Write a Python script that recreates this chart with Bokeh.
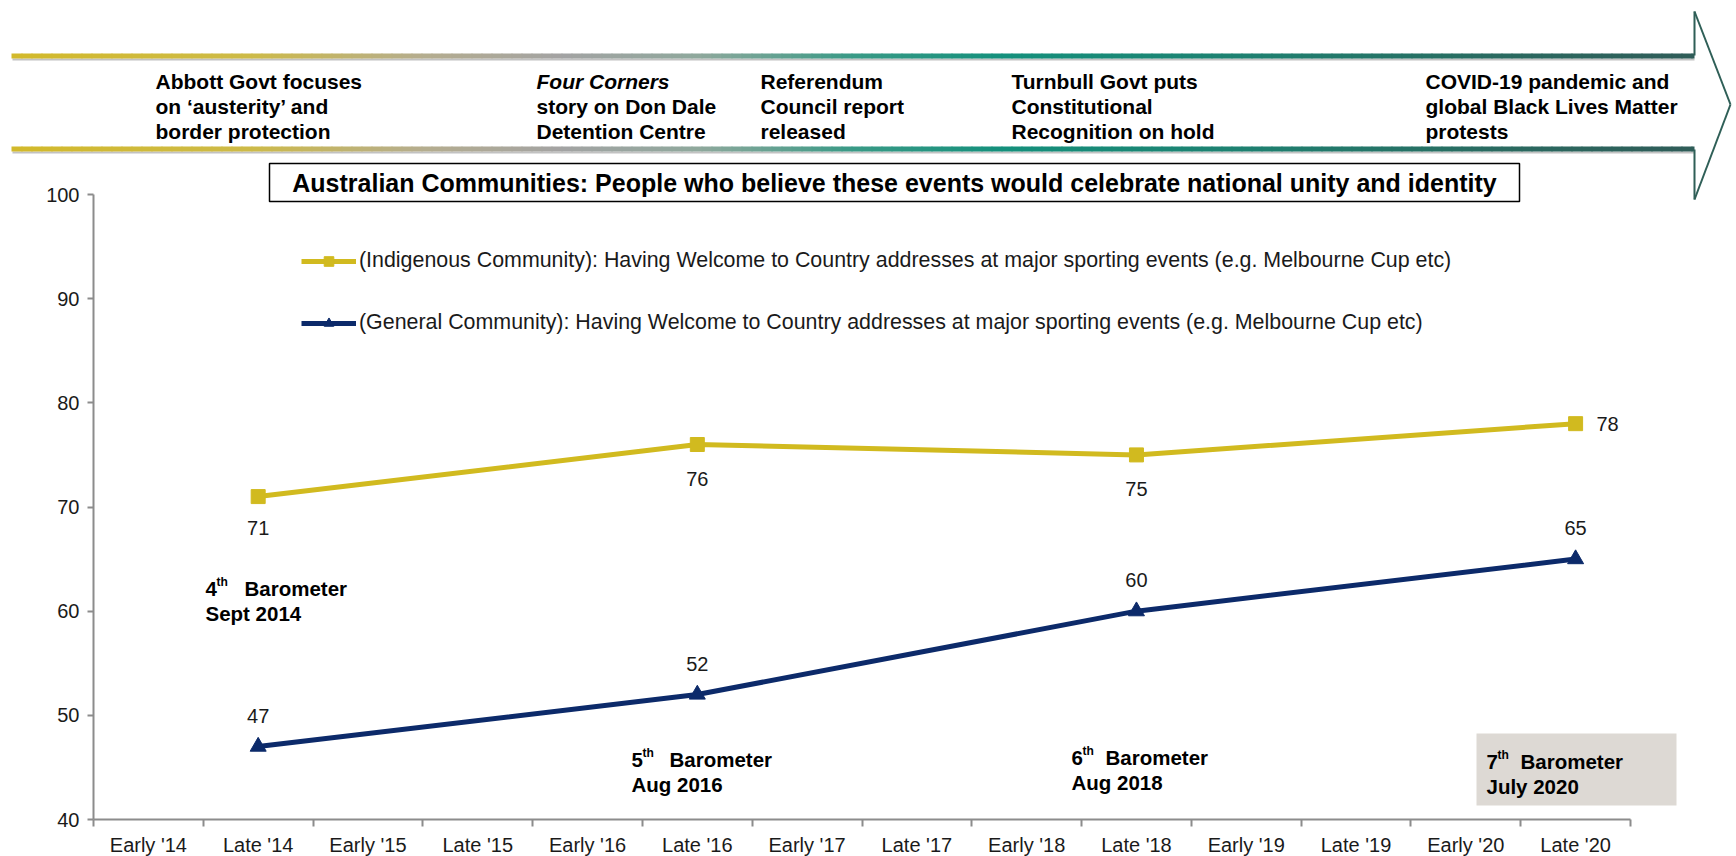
from bokeh.plotting import figure
from bokeh.models import (Range1d, FixedTicker, Label, BoxAnnotation, Arrow,
                          Legend, LegendItem, ColumnDataSource)
from bokeh.core.properties import value
from bokeh.embed import file_html
from bokeh.resources import INLINE

# ---------------- data ----------------
categories = ["Early '14", "Late '14", "Early '15", "Late '15", "Early '16", "Late '16",
              "Early '17", "Late '17", "Early '18", "Late '18", "Early '19", "Late '19",
              "Early '20", "Late '20"]
waves = ["Late '14", "Late '16", "Late '18", "Late '20"]
indigenous = [71, 76, 75, 78]
general = [47, 52, 60, 65]
y_ticks = [40, 50, 60, 70, 80, 90, 100]

indigenous_name = ("(Indigenous Community): Having Welcome to Country addresses at major "
                   "sporting events (e.g. Melbourne Cup etc)")
general_name = ("(General Community): Having Welcome to Country addresses at major "
                "sporting events (e.g. Melbourne Cup etc)")
chart_title = ("Australian Communities: People who believe these events would celebrate "
               "national unity and identity")

events = [
    ["Abbott Govt focuses", "on \u2018austerity\u2019 and", "border protection"],
    ["Four Corners", "story on Don Dale", "Detention Centre"],
    ["Referendum", "Council report", "released"],
    ["Turnbull Govt puts", "Constitutional", "Recognition on hold"],
    ["COVID-19 pandemic and", "global Black Lives Matter", "protests"],
]
barometer_nums = ["4", "5", "6", "7"]
barometer_dates = ["Sept 2014", "Aug 2016", "Aug 2018", "July 2020"]

# ---------------- layout / style ----------------
W, H = 1736, 856
FL, FR, FT, FB = 93, 1630, 194, 819   # plot-area edges (value 40..100, categories) in pixels
FONT = "Liberation Sans"
YEL = "#D1BA1F"
NAVY = "#0C2A6A"
AX = "#8C8C8C"
TXT = "#1A1A1A"
TEAL_D = "#2F5F57"
LABEL_SHIFT = 7   # Label alphabetic-baseline correction (px)

n = len(categories)
Y0, Y1 = 40, 100
PPX = (FR - FL) / n
PPY = (FB - FT) / (Y1 - Y0)


def X(px):
    return (px - FL) / PPX


def Y(py):
    return Y0 + (FB - py) / PPY


p = figure(width=W, height=H,
           x_range=Range1d(X(0), X(W)), y_range=Range1d(Y(H), Y(0)),
           output_backend="svg", toolbar_location=None,
           min_border=0, min_border_left=0, min_border_right=0,
           min_border_top=0, min_border_bottom=0)
p.outline_line_color = None
p.xgrid.visible = False
p.ygrid.visible = False
p.background_fill_color = "white"
p.border_fill_color = "white"

# ---------------- axes ----------------
p.yaxis.fixed_location = 0
p.yaxis.bounds = (Y0, Y1)
p.yaxis.ticker = FixedTicker(ticks=y_ticks)
p.yaxis.minor_tick_line_color = None
p.yaxis.major_tick_in = 0
p.yaxis.major_tick_out = 6
p.yaxis.axis_line_color = AX
p.yaxis.axis_line_width = 2
p.yaxis.major_tick_line_color = AX
p.yaxis.major_tick_line_width = 2
p.yaxis.major_label_text_font = FONT
p.yaxis.major_label_text_font_size = "20px"
p.yaxis.major_label_text_color = TXT
p.yaxis.major_label_standoff = 8

centers = [i + 0.5 for i in range(n)]
p.xaxis.fixed_location = Y0
p.xaxis.bounds = (0, n)
p.xaxis.ticker = FixedTicker(ticks=centers, minor_ticks=list(range(n + 1)))
p.xaxis.major_label_overrides = {c: lab for c, lab in zip(centers, categories)}
p.xaxis.major_tick_line_color = None
p.xaxis.major_tick_in = 0
p.xaxis.major_tick_out = 0
p.xaxis.minor_tick_in = 0
p.xaxis.minor_tick_out = 7
p.xaxis.minor_tick_line_color = AX
p.xaxis.minor_tick_line_width = 2
p.xaxis.axis_line_color = AX
p.xaxis.axis_line_width = 2
p.xaxis.major_label_text_font = FONT
p.xaxis.major_label_text_font_size = "20px"
p.xaxis.major_label_text_color = TXT
p.xaxis.major_label_standoff = 7

# ---------------- 7th barometer box (under everything) ----------------
p.add_layout(BoxAnnotation(left=X(1476), right=X(1676), top=Y(733), bottom=Y(805),
                           fill_color="#DDD9D4", fill_alpha=1, line_alpha=0,
                           level="underlay"))

# ---------------- series ----------------
xs = [categories.index(w) + 0.5 for w in waves]
src = ColumnDataSource(dict(
    x=xs, ind=indigenous, gen=general,
    ind_lbl=[str(v) for v in indigenous], gen_lbl=[str(v) for v in general],
    ind_dx=[0, 0, 0, 32], ind_dy=[31, 34, 34, 0],
    gen_dx=[0, 0, 0, 0], gen_dy=[-31, -31, -31, -31],
))

li = p.line("x", "ind", source=src, line_color=YEL, line_width=5)
si = p.scatter("x", "ind", source=src, marker="square", size=14,
               fill_color=YEL, line_color=YEL)
lg = p.line("x", "gen", source=src, line_color=NAVY, line_width=5)
sg = p.scatter("x", "gen", source=src, marker="triangle", size=16,
               fill_color=NAVY, line_color=NAVY)

for col, lab, dx, dy in (("ind", "ind_lbl", "ind_dx", "ind_dy"),
                         ("gen", "gen_lbl", "gen_dx", "gen_dy")):
    p.text("x", col, text=lab, source=src, x_offset=dx, y_offset=dy,
           text_font=value(FONT), text_font_size="20px", text_color=TXT,
           text_align="center", text_baseline="middle")

LEG_H = 24 + 37 + 24
legend = Legend(items=[LegendItem(label=indigenous_name, renderers=[li, si]),
                       LegendItem(label=general_name, renderers=[lg, sg])],
                location=(301, H - (262 - 12) - LEG_H),
                orientation="vertical", glyph_width=55, glyph_height=24,
                label_height=24, spacing=37, padding=0, margin=0, label_standoff=3,
                border_line_alpha=0, background_fill_alpha=0,
                label_text_font=FONT, label_text_font_size="21.4px",
                label_text_color=TXT)
p.add_layout(legend)

# ---------------- title box ----------------
p.add_layout(BoxAnnotation(left=X(269), right=X(1519), top=Y(163), bottom=Y(201),
                           fill_color="white", fill_alpha=1, line_color="black",
                           line_alpha=1, line_width=1.5, level="overlay"))
p.add_layout(Label(x=X(894), y=Y(182), text=chart_title, text_align="center",
                   text_baseline="middle", text_font=FONT, text_font_size="25px",
                   text_font_style="bold", text_color="black", level="overlay"))

# ---------------- banner (timeline arrow) ----------------
stops = [(11, (0xD2, 0xB9, 0x2A)), (250, (0xCD, 0xBA, 0x48)), (420, (0xB5, 0xAD, 0x8E)),
         (560, (0xA3, 0xA3, 0xA3)), (700, (0x8E, 0xA8, 0x9C)), (850, (0x3A, 0x9A, 0x86)),
         (1000, (0x14, 0x90, 0x7C)), (1250, (0x1E, 0x80, 0x70)), (1500, (0x2A, 0x6A, 0x60)),
         (1694, (0x2F, 0x5C, 0x58))]


def grad_color(px):
    for (a, ca), (b, cb) in zip(stops[:-1], stops[1:]):
        if a <= px <= b:
            t = (px - a) / (b - a)
            return "#%02x%02x%02x" % tuple(int(round(u + (v - u) * t)) for u, v in zip(ca, cb))
    return "#%02x%02x%02x" % stops[-1][1]


STEP = 10
for (top, bot) in ((53, 58), (146, 151)):
    p.add_layout(BoxAnnotation(left=X(12), right=X(1694), top=Y(bot), bottom=Y(bot + 2),
                               fill_color="#A8A8A8", fill_alpha=0.7, line_alpha=0,
                               level="overlay"))
    x0 = 11
    while x0 < 1694:
        x1 = min(x0 + STEP, 1694)
        p.add_layout(BoxAnnotation(left=X(x0), right=X(min(x1 + 1, 1694)), top=Y(top),
                                   bottom=Y(bot), fill_color=grad_color((x0 + x1) / 2),
                                   fill_alpha=1, line_alpha=0, level="overlay"))
        x0 = x1

for (xa, ya, xb, yb) in ((1694, 55, 1694, 11), (1694, 11, 1730, 104),
                         (1730, 104, 1694, 199), (1694, 199, 1694, 149)):
    p.add_layout(Arrow(x_start=X(xa), y_start=Y(ya), x_end=X(xb), y_end=Y(yb),
                       start=None, end=None, line_color=TEAL_D, line_width=2,
                       level="overlay"))

event_x = [155, 536, 760, 1011, 1425]
event_baselines = [87, 112, 137]
for ex, lines in zip(event_x, events):
    for line, by in zip(lines, event_baselines):
        style = "bold italic" if line == "Four Corners" else "bold"
        p.add_layout(Label(x=X(ex), y=Y(by - LABEL_SHIFT + 1), text=line, text_font=FONT,
                           text_font_size="21px", text_font_style=style,
                           text_color="black", text_baseline="alphabetic",
                           text_align="left", level="overlay"))

# ---------------- barometer annotations ----------------
bar_pos = [(205, 596, 39), (631, 767, 38), (1071, 765, 34), (1486, 769, 34)]
for num, date, (bx, by, boff) in zip(barometer_nums, barometer_dates, bar_pos):
    by = by - LABEL_SHIFT - 1
    kw = dict(text_font=FONT, text_font_style="bold", text_color="black",
              text_baseline="alphabetic", text_align="left")
    p.add_layout(Label(x=X(bx), y=Y(by), text=num, text_font_size="20.5px", **kw))
    p.add_layout(Label(x=X(bx + 11), y=Y(by - 7), text="th", text_font_size="12px", **kw))
    p.add_layout(Label(x=X(bx + boff), y=Y(by), text="Barometer", text_font_size="20.5px", **kw))
    p.add_layout(Label(x=X(bx), y=Y(by + 25), text=date, text_font_size="20.5px", **kw))

open("out.html", "w").write(file_html(p, INLINE))
